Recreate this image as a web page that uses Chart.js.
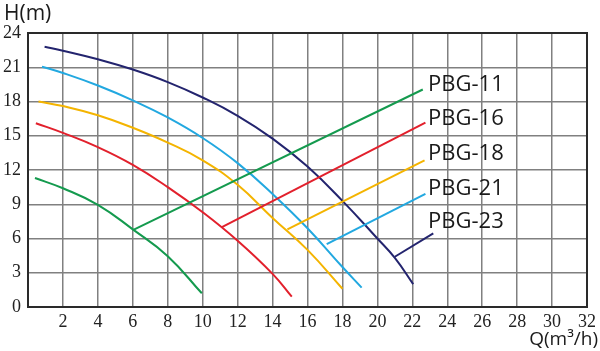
<!DOCTYPE html>
<html>
<head>
<meta charset="utf-8">
<script src="https://cdn.jsdelivr.net/npm/chart.js@4"></script>
<style>
  html, body { margin: 0; padding: 0; background: #fff; }
  #wrap { width: 600px; height: 351px; position: relative; }
</style>
</head>
<body>
<div id="wrap"><canvas id="chart"></canvas></div>
<script>
// pump curves (Q in m3/h, H in m)
const q11 = [0.4, 2, 4, 6, 8, 9.95];
const h11 = [11.3, 10.4, 8.95, 6.8, 4.45, 1.2];

const q16 = [0.45, 2, 4, 6, 8, 10, 12, 14, 15.1];
const h16 = [16.1, 15.25, 14.0, 12.45, 10.5, 8.3, 5.8, 2.9, 0.9];

const q18 = [0.6, 2, 4, 6, 8, 10, 12, 14, 16, 18];
const h18 = [18.0, 17.6, 16.8, 15.7, 14.4, 12.85, 10.7, 7.8, 5.0, 1.6];

const q21 = [0.8, 2, 4, 6, 8, 10, 12, 14, 16, 18, 19.1];
const h21 = [21.05, 20.5, 19.4, 18.1, 16.6, 14.8, 12.6, 9.9, 6.9, 3.5, 1.7];

const q23 = [0.95, 2, 4, 6, 8, 10, 12, 14, 16, 18, 20, 21, 22.05];
const h23 = [22.8, 22.45, 21.7, 20.8, 19.7, 18.35, 16.75, 14.75, 12.3, 9.3, 6.0, 4.3, 2.0];

// label leader lines: start on curve -> end near the label
const names = ["PBG-11", "PBG-16", "PBG-18", "PBG-21", "PBG-23"];
const colors = ["#149a4e", "#e2202c", "#f4b400", "#22a8e0", "#23246e"];
const leadQ = [[6.03, 22.6], [11.1, 22.75], [14.85, 22.7], [17.1, 22.75], [21.0, 23.2]];
const leadH = [[6.75, 19.05], [7.0, 16.15], [6.8, 12.85], [5.5, 9.9], [4.4, 6.45]];
// where each name sits (left edge, middle)
const nameQ = [22.9, 22.9, 22.9, 22.9, 22.9];
const nameH = [19.45, 16.45, 13.45, 10.4, 7.45];

const xTicks = [0, 2, 4, 6, 8, 10, 12, 14, 16, 18, 20, 22, 24, 26, 28, 30, 32];
const yTicks = [0, 3, 6, 9, 12, 15, 18, 21, 24];

const pts = (q, h) => q.map((v, i) => ({ x: v, y: h[i] }));
const curves = [[q11, h11], [q16, h16], [q18, h18], [q21, h21], [q23, h23]];

let datasets = [];
curves.forEach((c, i) => {
    datasets.push({
        data: pts(c[0], c[1]),
        borderColor: colors[i],
        borderWidth: 2,
        showLine: true,
        pointRadius: 0,
        tension: 0.45
    });
    datasets.push({
        data: pts(leadQ[i], leadH[i]),
        borderColor: colors[i],
        borderWidth: 2,
        showLine: true,
        pointRadius: 0,
        tension: 0
    });
});

// frame, axis titles and the PBG labels
const extras = {
    id: "extras",
    afterDraw(chart) {
        const ctx = chart.ctx;
        const a = chart.chartArea;
        const xs = chart.scales.x, ys = chart.scales.y;
        ctx.save();
        ctx.strokeStyle = "#2a2a2a";
        ctx.lineWidth = 2;
        ctx.strokeRect(a.left, a.top, a.right - a.left, a.bottom - a.top);

        ctx.fillStyle = "#1a1a1a";
        ctx.font = "22px 'Open Sans'";
        ctx.textBaseline = "middle";
        ctx.textAlign = "left";
        names.forEach((n, i) => {
            ctx.fillText(n, xs.getPixelForValue(nameQ[i]), ys.getPixelForValue(nameH[i]));
        });

        ctx.font = "21px 'Open Sans'";
        ctx.fillText("H(m)", 4, 14);
        ctx.textAlign = "right";
        ctx.font = "19px 'Open Sans'";
        ctx.fillText("Q(m\u00b3/h)", 598, 340);
        ctx.restore();
    }
};

new Chart(document.getElementById("chart"), {
    type: "scatter",
    data: { datasets: datasets },
    plugins: [extras],
    options: {
        responsive: true,
        maintainAspectRatio: false,
        animation: false,
        layout: { padding: { top: 33, right: 11, left: 0, bottom: 0 } },
        plugins: { legend: { display: false }, tooltip: { enabled: false } },
        scales: {
            x: {
                type: "linear",
                min: 0, max: 32,
                afterBuildTicks: (s) => { s.ticks = xTicks.map(v => ({ value: v })); },
                afterFit: (s) => { s.height = 44; },
                grid: { color: "#808080", lineWidth: 1.5, drawTicks: false },
                border: { color: "#2a2a2a", width: 2 },
                ticks: {
                    color: "#222",
                    padding: 4,
                    font: { family: "'Liberation Serif'", size: 18 },
                    callback: (v) => v === 0 ? "" : v
                }
            },
            y: {
                type: "linear",
                min: 0, max: 24,
                afterBuildTicks: (s) => { s.ticks = yTicks.map(v => ({ value: v })); },
                afterFit: (s) => { s.width = 28; },
                grid: { color: "#808080", lineWidth: 1.5, drawTicks: false },
                border: { color: "#2a2a2a", width: 2 },
                ticks: {
                    color: "#222",
                    padding: 7,
                    font: { family: "'Liberation Serif'", size: 18 }
                }
            }
        }
    }
});
</script>
</body>
</html>
